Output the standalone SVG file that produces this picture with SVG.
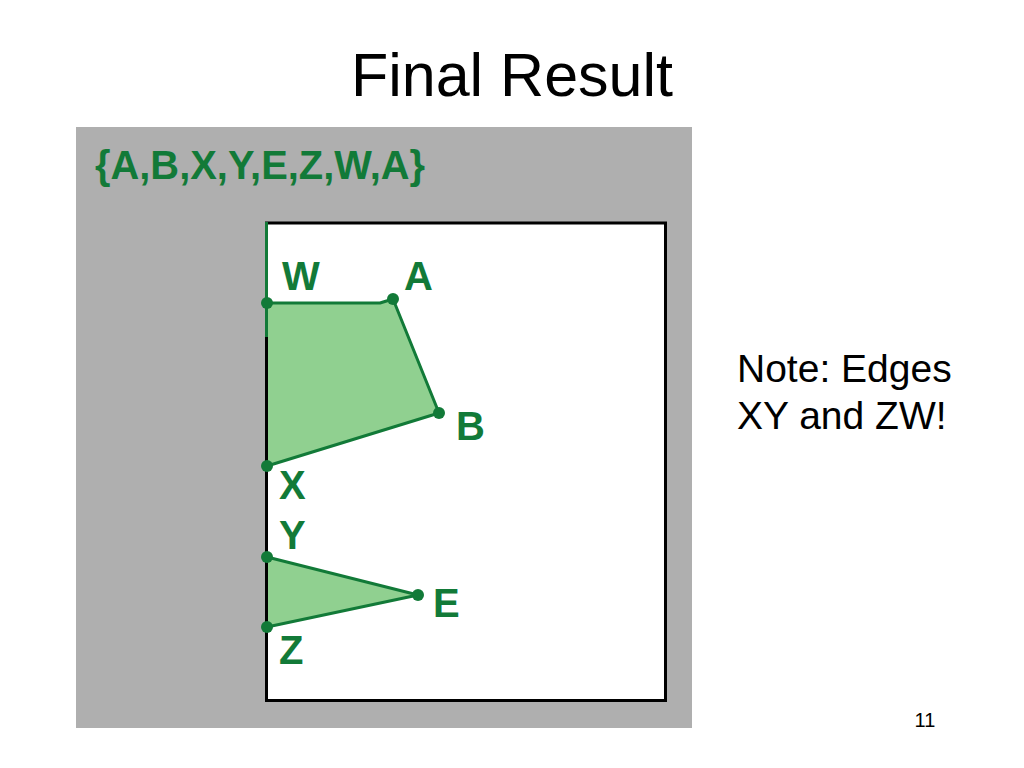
<svg xmlns="http://www.w3.org/2000/svg" width="1024" height="768" viewBox="0 0 1024 768">
<style>
.lbl{font-family:"Liberation Sans",Arial,sans-serif;font-weight:bold;fill:#127a38;font-size:40px}
.txt{font-family:"Liberation Sans",Arial,sans-serif;fill:#000}
.edge{stroke:#127a38;stroke-width:3;fill:none;stroke-linejoin:round}
.fill{fill:#90d090;stroke:none}
.pt{fill:#127a38}
</style>
<rect width="1024" height="768" fill="#fff"/>
<text class="txt" x="512" y="96" font-size="61" text-anchor="middle">Final Result</text>
<g id="panel">
<rect x="76" y="127" width="616" height="601" fill="#afafaf"/>
<text class="lbl" x="95" y="179" font-size="38" textLength="330" lengthAdjust="spacingAndGlyphs">{A,B,X,Y,E,Z,W,A}</text>
<rect x="266.5" y="223" width="399" height="477.5" fill="#fff"/>
<polygon class="fill" points="267,303 380,303 393,299 439,413 267,466"/>
<polygon class="fill" points="267,557 418,595 267,627"/>
<rect x="266.5" y="223" width="399" height="477.5" fill="none" stroke="#000" stroke-width="3"/>
</g>
<g id="connectors">
<polyline class="edge" points="267,303 380,303 393,299 439,413 267,466"/>
<polyline class="edge" points="267,557 418,595 267,627"/>
<line class="edge" x1="266.5" y1="222" x2="266.5" y2="337"/>
</g>
<g id="W"><circle class="pt" cx="267" cy="303" r="6"/><text class="lbl" x="282" y="290">W</text></g>
<g id="A"><circle class="pt" cx="393" cy="299" r="6"/><text class="lbl" x="404" y="290">A</text></g>
<g id="B"><circle class="pt" cx="439" cy="413" r="6"/><text class="lbl" x="456" y="440">B</text></g>
<g id="X"><circle class="pt" cx="267" cy="466" r="6"/><text class="lbl" x="279" y="499">X</text></g>
<g id="Y"><circle class="pt" cx="267" cy="557" r="6"/><text class="lbl" x="279" y="549">Y</text></g>
<g id="E"><circle class="pt" cx="418" cy="595" r="6"/><text class="lbl" x="433" y="617">E</text></g>
<g id="Z"><circle class="pt" cx="267" cy="627" r="6"/><text class="lbl" x="279" y="664">Z</text></g>
<g id="note">
<text class="txt" x="737" y="382" font-size="39">Note: Edges</text>
<text class="txt" x="737" y="429" font-size="39">XY and ZW!</text>
</g>
<text class="txt" x="925" y="727" font-size="20" text-anchor="middle">11</text>
</svg>
